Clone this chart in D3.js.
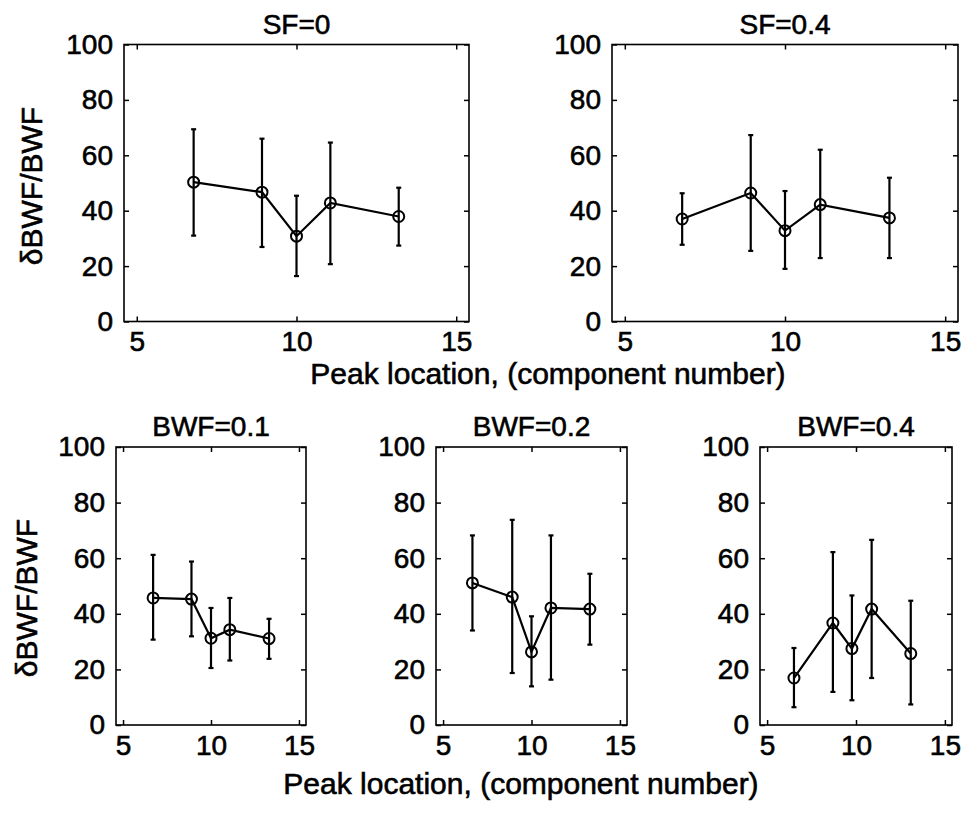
<!DOCTYPE html>
<html>
<head>
<meta charset="utf-8">
<script src="https://cdn.jsdelivr.net/npm/d3@7"></script>
<style>
  body { margin: 0; background: #fff; }
  text { font-family: "Liberation Sans", Arial, Helvetica, sans-serif; fill: #000; stroke: #000; stroke-width: 0.6px; }
</style>
</head>
<body>
<div id="chart"></div>
<script>
// Peak locations (component number) and dBWF/BWF values
const sf0Peak = [6.78, 8.92, 10.0, 11.06, 13.2];
const sf0Mean = [50.3, 46.7, 30.8, 42.8, 37.9];
const sf0Lo   = [31.0, 26.9, 16.4, 20.7, 27.4];
const sf0Hi   = [69.4, 66.0, 45.4, 64.6, 48.3];

const sf04Peak = [6.79, 8.93, 10.0, 11.1, 13.26];
const sf04Mean = [37.0, 46.4, 32.8, 42.2, 37.4];
const sf04Lo   = [27.7, 25.5, 19.0, 22.9, 22.9];
const sf04Hi   = [46.3, 67.3, 47.1, 62.0, 51.9];

const bwf01Peak = [6.71, 8.89, 10.0, 11.07, 13.3];
const bwf01Mean = [45.7, 45.3, 31.2, 34.3, 31.1];
const bwf01Lo   = [30.7, 31.9, 20.5, 23.2, 23.8];
const bwf01Hi   = [61.2, 58.8, 42.1, 45.7, 38.2];

const bwf02Peak = [6.66, 8.91, 10.0, 11.1, 13.3];
const bwf02Mean = [51.1, 46.0, 26.3, 42.1, 41.7];
const bwf02Lo   = [34.0, 18.7, 13.9, 16.3, 28.9];
const bwf02Hi   = [68.2, 73.8, 39.1, 68.2, 54.4];

const bwf04Peak = [6.51, 8.7, 9.77, 10.88, 13.08];
const bwf04Mean = [16.9, 36.7, 27.5, 41.7, 25.7];
const bwf04Lo   = [6.4, 11.9, 8.9, 16.9, 7.4];
const bwf04Hi   = [27.7, 62.2, 46.6, 66.6, 44.7];

const xTicks = [5, 10, 15];
const yTicks = [0, 20, 40, 60, 80, 100];
const titles = ["SF=0", "SF=0.4", "BWF=0.1", "BWF=0.2", "BWF=0.4"];
const yLabel = "\u03b4BWF/BWF";
const xLabel = "Peak location, (component number)";

const W = 966, H = 813;
const svg = d3.select("#chart").append("svg")
    .attr("width", W)
    .attr("height", H);

// panel boxes in page pixels
const panels = [
    { left: 124, top: 44.5, width: 345, height: 277, peak: sf0Peak, mean: sf0Mean, lo: sf0Lo, hi: sf0Hi },
    { left: 612, top: 44.5, width: 346, height: 277, peak: sf04Peak, mean: sf04Mean, lo: sf04Lo, hi: sf04Hi },
    { left: 116, top: 447, width: 190, height: 278, peak: bwf01Peak, mean: bwf01Mean, lo: bwf01Lo, hi: bwf01Hi },
    { left: 436, top: 447, width: 191, height: 278, peak: bwf02Peak, mean: bwf02Mean, lo: bwf02Lo, hi: bwf02Hi },
    { left: 760, top: 447, width: 192, height: 278, peak: bwf04Peak, mean: bwf04Mean, lo: bwf04Lo, hi: bwf04Hi }
];

panels.forEach((p, i) => {
    const g = svg.append("g").attr("transform", `translate(${p.left},${p.top})`);

    const x = d3.scaleLinear().domain([4.6, 15.4]).range([0, p.width]);
    const y = d3.scaleLinear().domain([0, 100]).range([p.height, 0]);

    // inward ticks on all four sides, labels only left and bottom
    g.append("g")
        .attr("transform", `translate(0,${p.height})`)
        .call(d3.axisBottom(x).tickValues(xTicks).tickSizeInner(-5).tickSizeOuter(0).tickPadding(10))
        .call(a => a.select(".domain").remove())
        .call(a => a.selectAll("text").attr("font-size", 28).attr("dy", "0.71em"));
    g.append("g")
        .call(d3.axisTop(x).tickValues(xTicks).tickSizeInner(-5).tickSizeOuter(0).tickFormat(""))
        .call(a => a.select(".domain").remove());
    g.append("g")
        .call(d3.axisLeft(y).tickValues(yTicks).tickSizeInner(-5).tickSizeOuter(0).tickPadding(11))
        .call(a => a.select(".domain").remove())
        .call(a => a.selectAll("text").attr("font-size", 28));
    g.append("g")
        .attr("transform", `translate(${p.width},0)`)
        .call(d3.axisRight(y).tickValues(yTicks).tickSizeInner(-5).tickSizeOuter(0).tickFormat(""))
        .call(a => a.select(".domain").remove());
    g.selectAll(".tick line").attr("stroke", "#000").attr("stroke-width", 1.5);
    g.selectAll(".tick text").attr("fill", "#000").attr("font-family", null);

    // box
    g.append("rect")
        .attr("width", p.width)
        .attr("height", p.height)
        .attr("fill", "none")
        .attr("stroke", "#000")
        .attr("stroke-width", 1.6);

    const pts = p.peak.map((v, k) => ({ x: v, m: p.mean[k], lo: p.lo[k], hi: p.hi[k] }));

    // error bars
    const eb = g.append("g").attr("stroke", "#000").attr("stroke-width", 2.2);
    eb.selectAll("line.bar").data(pts).join("line")
        .attr("class", "bar")
        .attr("x1", d => x(d.x)).attr("x2", d => x(d.x))
        .attr("y1", d => y(d.lo)).attr("y2", d => y(d.hi));
    eb.selectAll("line.capHi").data(pts).join("line")
        .attr("class", "capHi")
        .attr("x1", d => x(d.x) - 2.5).attr("x2", d => x(d.x) + 2.5)
        .attr("y1", d => y(d.hi)).attr("y2", d => y(d.hi));
    eb.selectAll("line.capLo").data(pts).join("line")
        .attr("class", "capLo")
        .attr("x1", d => x(d.x) - 2.5).attr("x2", d => x(d.x) + 2.5)
        .attr("y1", d => y(d.lo)).attr("y2", d => y(d.lo));

    // mean line
    const line = d3.line().x(d => x(d.x)).y(d => y(d.m));
    g.append("path")
        .datum(pts)
        .attr("d", line)
        .attr("fill", "none")
        .attr("stroke", "#000")
        .attr("stroke-width", 2.2);

    g.selectAll("circle").data(pts).join("circle")
        .attr("cx", d => x(d.x))
        .attr("cy", d => y(d.m))
        .attr("r", 5.5)
        .attr("fill", "none")
        .attr("stroke", "#000")
        .attr("stroke-width", 2);

    // title
    g.append("text")
        .attr("x", p.width / 2)
        .attr("y", -11)
        .attr("text-anchor", "middle")
        .attr("font-size", 28)
        .text(titles[i]);
});

// y labels
svg.append("text")
    .attr("transform", "translate(42,186) rotate(-90)")
    .attr("text-anchor", "middle")
    .attr("font-size", 30)
    .text(yLabel);
svg.append("text")
    .attr("transform", "translate(37,598) rotate(-90)")
    .attr("text-anchor", "middle")
    .attr("font-size", 30)
    .text(yLabel);

// x labels
svg.append("text")
    .attr("x", 548)
    .attr("y", 384)
    .attr("text-anchor", "middle")
    .attr("font-size", 30)
    .text(xLabel);
svg.append("text")
    .attr("x", 521)
    .attr("y", 794)
    .attr("text-anchor", "middle")
    .attr("font-size", 30)
    .text(xLabel);
</script>
</body>
</html>
